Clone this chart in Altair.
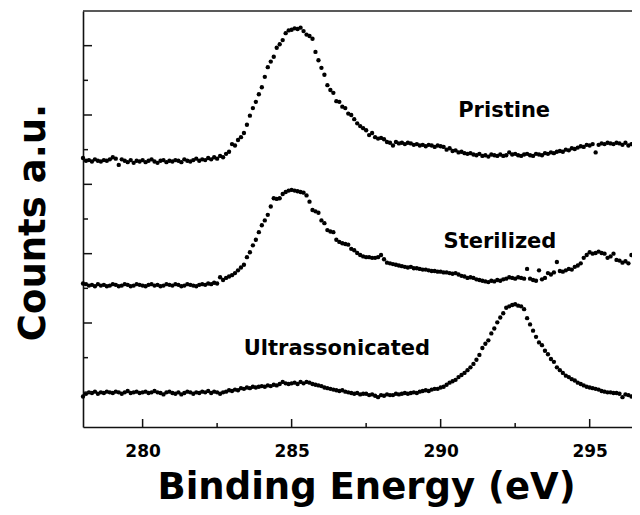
import altair as alt
import pandas as pd

# Binding energy grid start/step (eV) and counts (a.u.)
E_START = 278.0
E_STEP = 0.1

pristine = [
    388, 384, 385, 383, 386, 384, 383, 385, 384, 386,
    389, 387, 378, 386, 384, 382, 385, 381, 384, 383,
    385, 382, 384, 386, 383, 381, 384, 385, 382, 384,
    383, 385, 384, 382, 386, 384, 383, 385, 387, 384,
    386, 385, 388, 386, 389, 387, 391, 389, 394, 397,
    408, 406, 414, 418, 424, 436, 449, 460, 469, 480,
    490, 505, 519, 527, 534, 547, 552, 558, 568, 572,
    573, 575, 574, 576, 571, 566, 564, 560, 541, 529,
    518, 508, 493, 486, 482, 470, 469, 462, 460, 452,
    450, 444, 438, 434, 431, 428, 421, 424, 418, 416,
    417, 415, 411, 410, 406, 411, 409, 410, 408, 410,
    409, 407, 408, 406, 407, 405, 407, 406, 404, 406,
    405, 404, 400, 402, 398, 399, 396, 397, 395, 394,
    395, 393, 392, 394, 391, 392, 390, 393, 392, 391,
    393, 391, 392, 396, 393, 394, 392, 391, 393, 394,
    392, 391, 394, 393, 392, 395, 394, 396, 395, 397,
    398, 397, 400, 399, 402, 401, 403, 405, 404, 407,
    406, 408, 396, 407, 409, 408, 410, 409, 408, 410,
    409, 407, 410, 406, 408,
]

sterilized = [
    207, 206, 204, 205, 203, 206, 204, 205, 203, 204,
    206, 205, 203, 204, 206, 205, 203, 204, 206, 205,
    204, 203, 205, 206, 204, 205, 203, 204, 206, 205,
    204, 206, 205, 203, 204, 206, 205, 204, 203, 205,
    206, 205, 207, 206, 208, 207, 216, 212, 215, 217,
    219, 222, 226, 230, 234, 245, 252, 262, 270, 281,
    291, 298, 306, 318, 330, 329, 330, 336, 339, 341,
    342, 341, 340, 339, 338, 334, 325, 313, 311, 309,
    298, 294, 284, 282, 281, 270, 267, 265, 264, 263,
    257, 255, 251, 248, 246, 245, 245, 244, 244, 245,
    248, 242, 237, 236, 235, 234, 233, 232, 231, 230,
    231, 229, 229, 228, 227, 227, 226, 225, 225, 224,
    224, 223, 223, 222, 221, 222, 220, 218, 217, 215,
    216, 215, 213, 212, 211, 210, 209, 211, 210, 212,
    211, 213, 214, 216, 215, 214, 216, 215, 214, 228,
    214, 212, 211, 226, 213, 215, 222, 220, 223, 238,
    225, 224, 226, 228, 227, 231, 233, 236, 244, 248,
    252, 250, 251, 253, 251, 250, 244, 246, 250, 241,
    240, 237, 239, 236, 248,
]

ultrassonicated = [
    44, 48, 50, 49, 51, 48, 50, 49, 51, 50,
    49, 51, 50, 48, 50, 52, 49, 50, 51, 49,
    50, 51, 49, 50, 52, 50, 49, 47, 50, 51,
    49, 48, 50, 47, 49, 51, 50, 48, 50, 49,
    51, 50, 52, 49, 51, 50, 48, 50, 51, 53,
    52, 54, 53, 56, 55, 57, 56, 58, 57, 58,
    59, 58, 60, 59, 61, 60, 62, 65, 63, 62,
    63, 64, 62, 65, 63, 65, 64, 62, 61, 60,
    59, 57, 56, 55, 54, 53, 52, 53, 51, 50,
    49, 48, 49, 47, 48, 48, 46, 47, 45, 43,
    46, 45, 47, 46, 46, 48, 47, 48, 49, 48,
    49, 50, 49, 51, 52, 53, 52, 54, 55, 55,
    57, 58, 61, 64, 66, 68, 72, 75, 78, 82,
    86, 91, 97, 104, 114, 120, 125, 135, 142, 151,
    158, 164, 172, 174, 176, 177, 175, 174, 170, 157,
    148, 139, 130, 122, 118, 110, 105, 98, 94, 86,
    82, 78, 74, 72, 69, 67, 64, 62, 60, 58,
    57, 56, 55, 54, 52, 51, 50, 50, 49, 49,
    48, 43, 47, 46, 44,
]

label_text = ["Pristine", "Sterilized", "Ultrassonicated"]
label_x = [292.13, 291.99, 286.52]
label_y = [447, 258, 104]

x_major = [280, 285, 290, 295]
x_minor = [282.5, 287.5, 292.5]
y_major = [50, 150, 250, 350, 450, 550]
y_minor = [100, 200, 300, 400, 500]

X_DOMAIN = [278.0, 296.42]
Y_DOMAIN = [0, 600]
W, H = 549, 416
FONT = "DejaVu Sans"

rows = []
for name, vals in [("Pristine", pristine), ("Sterilized", sterilized),
                   ("Ultrassonicated", ultrassonicated)]:
    for i, v in enumerate(vals):
        rows.append({"x": round(E_START + E_STEP * i, 2), "y": v, "s": name})
df = pd.DataFrame(rows)

xs = alt.Scale(domain=X_DOMAIN, nice=False, zero=False)
ys = alt.Scale(domain=Y_DOMAIN, nice=False, zero=False)

x_axis = alt.Axis(
    values=x_major, format="d", grid=False, ticks=False, tickSize=0,
    domainColor="#111", domainWidth=1.6,
    labelFont=FONT, labelFontWeight="bold", labelFontSize=17, labelColor="#000",
    labelBaseline="alphabetic", labelPadding=29, labelFlush=False,
    title="Binding Energy (eV)", titleFont=FONT, titleFontWeight="bold",
    titleFontSize=37, titleColor="#000", titleBaseline="alphabetic",
    titleAlign="center", titleX=283, titleY=71,
)
y_axis = alt.Axis(
    labels=False, ticks=False, tickSize=0, grid=False,
    domainColor="#111", domainWidth=1.6,
    title="Counts a.u.", titleFont=FONT, titleFontWeight="bold",
    titleFontSize=37, titleColor="#000", titleAngle=270,
    titleBaseline="alphabetic", titleAlign="center", titleX=-39, titleY=211,
)


def X(field="x"):
    return alt.X(f"{field}:Q", scale=xs, axis=x_axis)


def Y(field="y"):
    return alt.Y(f"{field}:Q", scale=ys, axis=y_axis)


points = alt.Chart(df).mark_circle(size=19, color="#000", opacity=1).encode(
    x=X(), y=Y(), detail="s:N",
)

labels = alt.Chart(pd.DataFrame({"x": label_x, "y": label_y, "t": label_text})).mark_text(
    font=FONT, fontWeight="bold", fontSize=21, color="#000",
    align="center", baseline="alphabetic",
).encode(x=X(), y=Y(), text="t:N")

xt_major = alt.Chart(pd.DataFrame({"x": x_major})).mark_rule(color="#111", strokeWidth=1.5).encode(
    x=X(), y=alt.value(H), y2=alt.value(H - 8))
xt_minor = alt.Chart(pd.DataFrame({"x": x_minor})).mark_rule(color="#111", strokeWidth=1.5).encode(
    x=X(), y=alt.value(H), y2=alt.value(H - 4))
yt_major = alt.Chart(pd.DataFrame({"y": y_major})).mark_rule(color="#111", strokeWidth=1.5).encode(
    y=Y(), x=alt.value(0), x2=alt.value(9))
yt_minor = alt.Chart(pd.DataFrame({"y": y_minor})).mark_rule(color="#111", strokeWidth=1.5).encode(
    y=Y(), x=alt.value(0), x2=alt.value(5))
top_border = alt.Chart(pd.DataFrame({"a": [0]})).mark_rule(color="#222", strokeWidth=1.6).encode(
    x=alt.value(0), x2=alt.value(W), y=alt.value(0))

chart = alt.layer(
    points, labels, top_border, xt_major, xt_minor, yt_major, yt_minor
).properties(
    width=W, height=H,
    autosize=alt.AutoSizeParams(type="none"),
    padding={"left": 75, "top": 3, "right": 0, "bottom": 80},
    background="white",
).configure_view(stroke="transparent")

chart.save("out.html", embed_options={"renderer": "svg", "actions": False})
